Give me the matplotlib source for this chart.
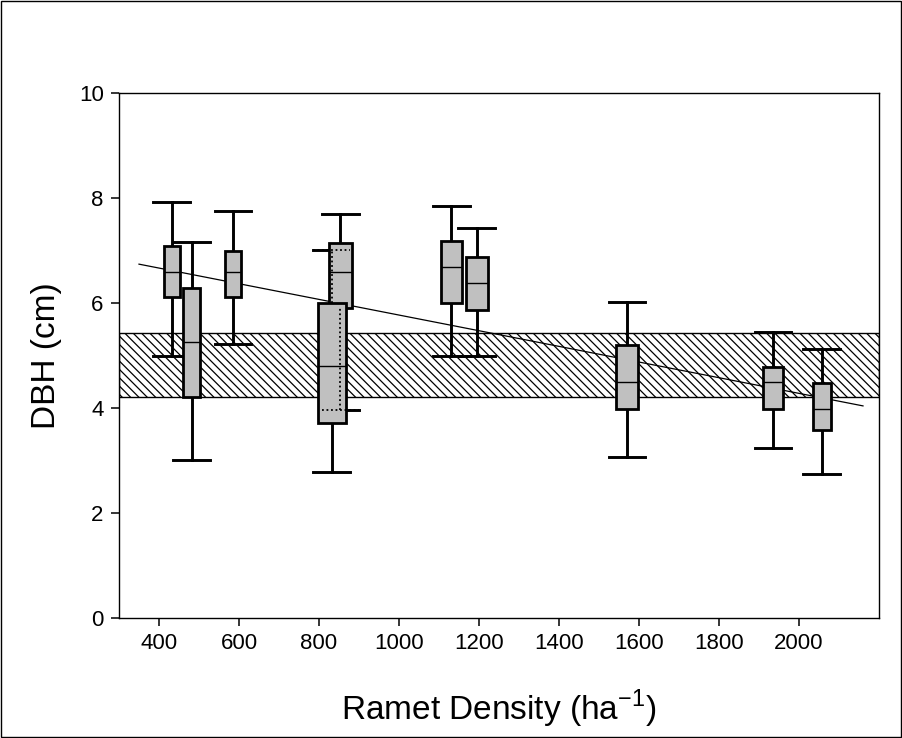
import numpy as np
import matplotlib.pyplot as plt
from matplotlib.patches import Rectangle

# ramet density of each stand (ha^-1) and DBH box statistics (cm)
density = [432, 482, 585, 853, 832, 1131, 1194, 1570, 1935, 2057]
whis_hi = [7.92, 7.16, 7.75, 7.70, 7.01, 7.84, 7.43, 6.02, 5.45, 5.12]
q3 = [7.08, 6.29, 6.99, 7.14, 6.00, 7.18, 6.88, 5.20, 4.78, 4.48]
median = [6.59, 5.26, 6.59, 6.59, 4.80, 6.69, 6.38, 4.50, 4.50, 3.98]
q1 = [6.11, 4.21, 6.11, 5.90, 3.71, 6.00, 5.87, 3.98, 3.98, 3.58]
whis_lo = [5.00, 3.01, 5.22, 3.96, 2.78, 5.00, 5.00, 3.07, 3.24, 2.74]

# regression line end points and reference band
trend_x = [350, 2160]
trend_y = [6.74, 4.04]
band = [4.21, 5.43]

xticks = [400, 600, 800, 1000, 1200, 1400, 1600, 1800, 2000]
yticks = [0, 2, 4, 6, 8, 10]

# box widths (data units)
box_w = [40, 43, 40, 58, 70, 53, 55, 54, 50, 45]
# whiskers hidden behind a neighbouring box, shown dotted
hidden_lower = [3]
hidden_upper = [4]

plt.rcParams['font.family'] = ['Liberation Sans', 'DejaVu Sans']
plt.rcParams['hatch.linewidth'] = 0.9

fig = plt.figure(figsize=(9.03, 7.38), dpi=100)
ax = fig.add_axes([119 / 903, 120 / 738, 760 / 903, 525 / 738])

# hatched band
ax.axhspan(band[0], band[1], facecolor='white', edgecolor='black',
           hatch='\\\\\\\\', lw=1.0, zorder=1)

# regression line
ax.plot(trend_x, trend_y, color='black', lw=0.9, zorder=2)

stats = []
for i in range(len(density)):
    stats.append({'med': median[i], 'q1': q1[i], 'q3': q3[i],
                  'whislo': whis_lo[i], 'whishi': whis_hi[i], 'fliers': []})

ax.bxp(stats, positions=density, widths=box_w, capwidths=[92] * len(density),
       patch_artist=True, manage_ticks=False,
       boxprops=dict(facecolor='#c0c0c0', edgecolor='black', lw=2.0, zorder=4),
       whiskerprops=dict(color='black', lw=2.1, zorder=3),
       capprops=dict(color='black', lw=2.1, zorder=3),
       medianprops=dict(color='black', lw=1.0, zorder=5))

dots = dict(colors='black', lw=1.3, linestyles=(0, (1, 1.5)), zorder=6)
for i in hidden_lower:
    ax.vlines(density[i], whis_lo[i], q1[i], **dots)
    ax.hlines(whis_lo[i], density[i] - 46, density[i] + 46, **dots)
for i in hidden_upper:
    ax.vlines(density[i], q3[i], whis_hi[i], **dots)
    ax.hlines(whis_hi[i], density[i] - 46, density[i] + 46, **dots)

ax.set_xlim(300, 2200)
ax.set_ylim(0, 10)
ax.set_xticks(xticks)
ax.set_yticks(yticks)
ax.tick_params(direction='out', length=6, width=1.1, labelsize=16, pad=5)
for s in ax.spines.values():
    s.set_linewidth(1.0)

ax.set_xlabel('Ramet Density (ha$^{\\mathregular{-1}}$)', fontsize=24, labelpad=24)
ax.set_ylabel('DBH (cm)', fontsize=24, labelpad=12)

# thin frame round the whole figure
fig.patches.append(Rectangle((0.001, 0.001), 0.997, 0.997, transform=fig.transFigure,
                             fill=False, edgecolor='black', lw=1.0))

fig.savefig('out.png', dpi=100)
